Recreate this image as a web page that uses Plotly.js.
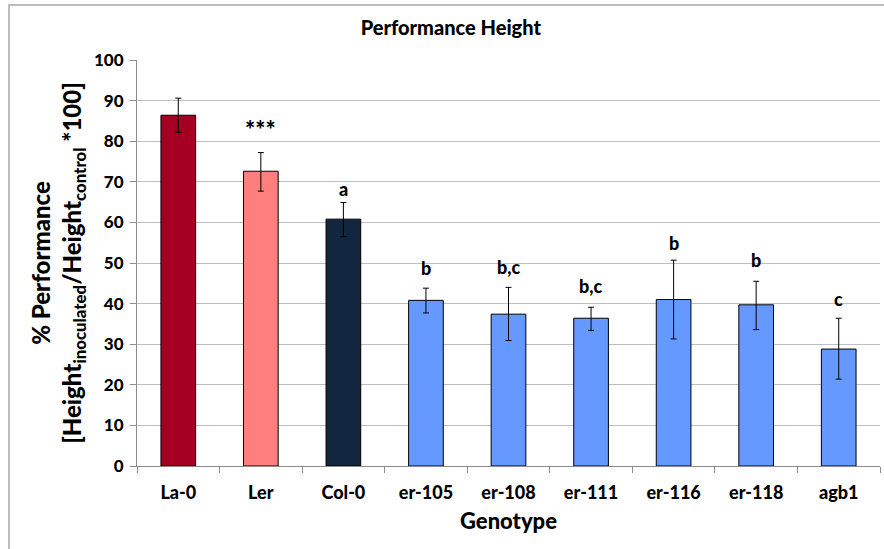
<!DOCTYPE html>
<html>
<head>
<meta charset="utf-8">
<script src="https://cdn.plot.ly/plotly-3.0.1.min.js"></script>
<style>
  html, body { margin: 0; padding: 0; background: #fff; }
  #wrap { position: relative; width: 884px; height: 549px; overflow: hidden; }
  #chart { width: 884px; height: 549px; }
  #frame { position: absolute; left: 8px; top: 4px; width: 900px; height: 600px;
           border-left: 2px solid #bdbdbd; border-top: 2px solid #bdbdbd; pointer-events: none; }
</style>
</head>
<body>
<div id="wrap">
  <div id="chart"></div>
  <div id="frame"></div>
</div>
<script>
const genotypes = ["La-0", "Ler", "Col-0", "er-105", "er-108", "er-111", "er-116", "er-118", "agb1"];
const performance = [86.4, 72.6, 60.8, 40.8, 37.4, 36.4, 41.0, 39.7, 28.8];
const errPlus  = [4.2, 4.6, 4.1, 3.0, 6.6, 2.7, 9.7, 5.8, 7.6];
const errMinus = [4.2, 4.9, 4.3, 3.1, 6.5, 3.0, 9.7, 6.1, 7.4];
const barColors = ["#a50021", "#ff7f7f", "#12263f", "#6699ff", "#6699ff", "#6699ff", "#6699ff", "#6699ff", "#6699ff"];
const sigLabels = ["", "***", "a", "b", "b,c", "b,c", "b", "b", "c"];
const sigY      = [0, 83.0, 68.2, 48.7, 48.9, 44.3, 54.9, 50.7, 41.1];

const FONT = "Lato, 'Open Sans', sans-serif";

const trace = {
  type: "bar",
  x: genotypes,
  y: performance,
  width: 0.42,
  marker: { color: barColors, line: { color: "#000000", width: 1 } },
  error_y: {
    type: "data", symmetric: false, array: errPlus, arrayminus: errMinus,
    color: "#000000", thickness: 1, width: 3
  },
  hoverinfo: "x+y"
};

const annotations = [];
genotypes.forEach((g, i) => {
  if (!sigLabels[i]) return;
  annotations.push({
    x: g, y: sigY[i], xref: "x", yref: "y",
    text: sigLabels[i], showarrow: false,
    font: { family: FONT, size: sigLabels[i] === "***" ? 24 : 18, color: "#000", weight: 900 },
    yanchor: "middle"
  });
});

const layout = {
  width: 884, height: 549,
  margin: { l: 137, r: 4, t: 60, b: 83, pad: 0 },
  paper_bgcolor: "#ffffff", plot_bgcolor: "#ffffff",
  showlegend: false,
  font: { family: FONT, color: "#000" },
  title: {
    text: "Performance Height",
    font: { family: FONT, size: 20, color: "#000", weight: 900 },
    x: 0.51, xanchor: "center", xref: "container", y: 0.949, yanchor: "middle"
  },
  xaxis: {
    type: "category",
    tickfont: { family: FONT, size: 18, color: "#000", weight: 900 },
    ticks: "outside", ticklen: 6, tickcolor: "#8c8c8c", tickson: "boundaries",
    ticklabelstandoff: 10,
    showline: true, linecolor: "#8c8c8c", linewidth: 1,
    showgrid: false, zeroline: false,
    title: { text: "Genotype", font: { family: FONT, size: 22, color: "#000", weight: 900 }, standoff: 12 },
    fixedrange: true
  },
  yaxis: {
    range: [0, 100], dtick: 10, tick0: 0,
    tickfont: { family: FONT, size: 17, color: "#000", weight: 900 },
    ticks: "outside", ticklen: 6, tickcolor: "#8c8c8c",
    ticklabelstandoff: 3,
    showline: true, linecolor: "#8c8c8c", linewidth: 1,
    showgrid: true, gridcolor: "#bfbfbf", gridwidth: 1,
    zeroline: false,
    title: {
      text: "% Performance<br>[Height<sub>inoculated</sub>/Height<sub>control</sub> *100]",
      font: { family: FONT, size: 24, color: "#000", weight: 900 }, standoff: 5
    },
    fixedrange: true
  },
  annotations: annotations
};

Plotly.newPlot("chart", [trace], layout, { displayModeBar: false, staticPlot: true });
</script>
</body>
</html>
